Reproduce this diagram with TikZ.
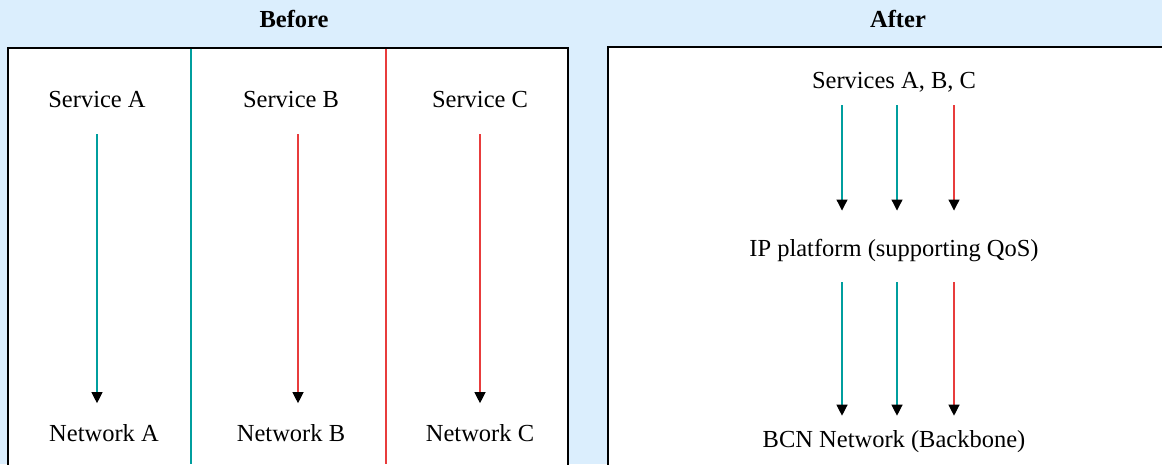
\documentclass[tikz,border=0pt]{standalone}
\usepackage{fontspec}
\setmainfont{Liberation Serif}
\usetikzlibrary{arrows.meta}
\definecolor{fond}{RGB}{219,238,253}
\definecolor{sarcelle}{RGB}{0,158,158}
\definecolor{rouge}{RGB}{232,60,60}

\begin{document}
\begin{tikzpicture}[x=1pt,y=-1pt]
\tikzstyle{texte}=[font=\fontsize{24.5}{29}\selectfont,inner sep=0pt]
\tikzstyle{titre}=[inner sep=0pt,font=\fontsize{24.5}{29}\selectfont\bfseries]
\tikzstyle{cadre}=[draw,line width=2.5pt]
\tikzstyle{fleche}=[-{Triangle[black,length=11pt,width=11pt]},line width=1.2pt]
\tikzstyle{avant}=[fleche,shorten <=26pt,shorten >=21pt]
\tikzstyle{haut}=[fleche,shorten <=13pt,shorten >=29pt]
\tikzstyle{bas}=[fleche,shorten <=20pt,shorten >=15pt]
\useasboundingbox (0,0) rectangle (1162,464);
\fill[fond] (0,0) rectangle (1162,464);
% cadres
\fill[white] (8,48) rectangle (568,480);
\fill[white] (608,47) rectangle (1180,480);
\draw[cadre] (8,480) -- (8,48) -- (568,48) -- (568,480);
\draw[cadre] (608,480) -- (608,47) -- (1180,47);
\draw[sarcelle,line width=1.2pt] (191,49) -- (191,464);
\draw[rouge,line width=1.2pt] (386,49) -- (386,464);
% titres
\node[titre] (avant) at (294,19) {Before};
\node[titre] (apres) at (898,19) {After};
% avant
\node[texte] (svcA) at (97,100) {Service A};
\node[texte] (svcB) at (291,100) {Service B};
\node[texte] (svcC) at (480,100) {Service C};
\node[texte] (netA) at (104,433) {Network A};
\node[texte] (netB) at (291,433) {Network B};
\node[texte] (netC) at (480,433) {Network C};
\draw[avant,sarcelle] (svcA.south -| 97,0) -- (netA.north -| 97,0);
\draw[avant,rouge] (svcB.south -| 298,0) -- (netB.north -| 298,0);
\draw[avant,rouge] (svcC) -- (netC);
% apres
\node[texte] (svcs) at (894,82) {Services A, B, C};
\node[texte] (ip) at (894,251) {IP platform (supporting QoS)};
\node[texte] (bcn) at (894,442) {BCN Network (Backbone)};
\draw[haut,sarcelle] ([xshift=-52]svcs.south) -- ([xshift=-52]ip.north);
\draw[haut,sarcelle] ([xshift=3]svcs.south) -- ([xshift=3]ip.north);
\draw[haut,rouge] ([xshift=60]svcs.south) -- ([xshift=60]ip.north);
\draw[bas,sarcelle] ([xshift=-52]ip.south) -- ([xshift=-52]bcn.north);
\draw[bas,sarcelle] ([xshift=3]ip.south) -- ([xshift=3]bcn.north);
\draw[bas,rouge] ([xshift=60]ip.south) -- ([xshift=60]bcn.north);
\end{tikzpicture}
\end{document}
